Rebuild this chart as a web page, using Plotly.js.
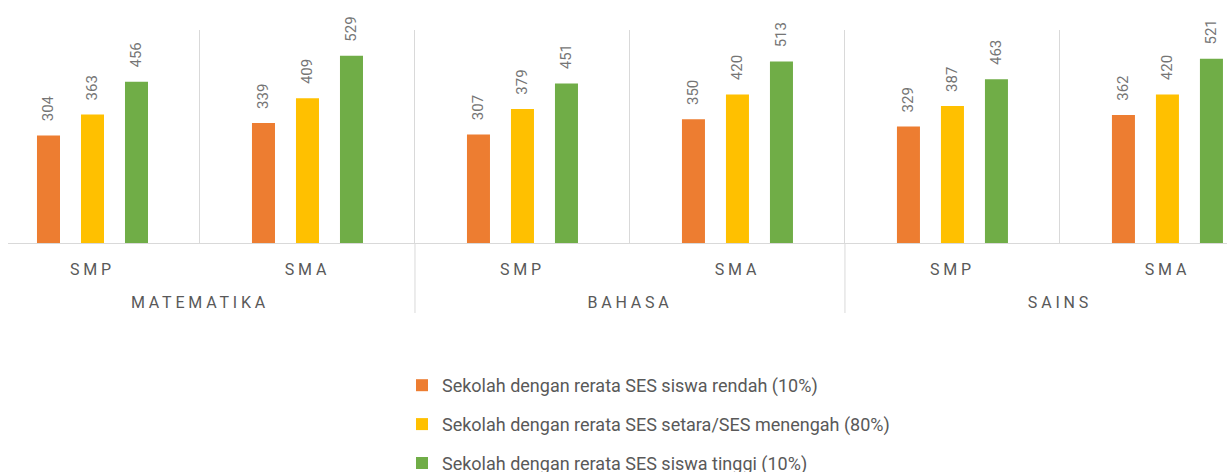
<!DOCTYPE html>
<html><head><meta charset="utf-8">
<script src="https://cdn.plot.ly/plotly-3.0.1.min.js"></script>
<style>
html,body{margin:0;padding:0;background:#fff;}
#chart .xtick text, #chart .xtick2 text {letter-spacing:3.8px;}
#chart g.xtick2 {transform: translateY(24px);}
</style>
</head><body><div id="chart" style="width:1227px;height:472px;"></div>
<script>
const subjects = ['MATEMATIKA','MATEMATIKA','BAHASA','BAHASA','SAINS','SAINS'];
const levels = ['SMP','SMA','SMP','SMA','SMP','SMA'];
const seriesNames = [
  'Sekolah dengan rerata SES siswa rendah (10%)',
  'Sekolah dengan rerata SES setara/SES menengah (80%)',
  'Sekolah dengan rerata SES siswa tinggi (10%)'
];
const rendah = [304, 339, 307, 350, 329, 362];
const menengah = [363, 409, 379, 420, 387, 420];
const tinggi = [456, 529, 451, 513, 463, 521];
const seriesValues = [rendah, menengah, tinggi];
const colors = ['#ED7D31', '#FFC000', '#70AD47'];

const traces = seriesValues.map((vals, i) => ({
  type: 'bar',
  name: seriesNames[i],
  legendgroup: 'g' + i,
  x: [subjects, levels],
  y: vals,
  marker: {color: colors[i]},
  text: vals.map(v => String(v)),
  texttemplate: '\u00a0\u00a0\u00a0%{text}',
  textposition: 'outside',
  textangle: -90,
  constraintext: 'none',
  cliponaxis: false,
  textfont: {family: 'Roboto, sans-serif', size: 15, color: '#757575'},
  hoverinfo: 'none'
}));

// group boundaries (between different subjects) for the divider lines
const dividerShapes = [];
for (let k = 1; k < subjects.length; k++) {
  if (subjects[k] !== subjects[k - 1]) {
    dividerShapes.push({
      type: 'line', xref: 'x', yref: 'paper',
      x0: k - 0.5, x1: k - 0.5, y0: 0, y1: -70 / 213,
      line: {color: '#d9d9d9', width: 1}
    });
  }
}

const layout = {
  width: 1227, height: 472,
  margin: {l: 8, r: 0, t: 30, b: 229, autoexpand: false},
  paper_bgcolor: '#fff', plot_bgcolor: '#fff',
  barmode: 'group',
  bargap: 0.386,
  bargroupgap: 0.477,
  font: {family: 'Roboto, sans-serif', color: '#595959'},
  xaxis: {
    type: 'multicategory',
    range: [-0.393, 5.277],
    showgrid: true, gridcolor: '#d9d9d9', gridwidth: 1,
    showline: true, linecolor: '#d9d9d9', linewidth: 1,
    showdividers: false,
    ticks: '',
    ticklabelstandoff: 12,
    tickfont: {family: 'Roboto, sans-serif', size: 16, color: '#595959'}
  },
  yaxis: {
    range: [0, 602],
    visible: false,
    showgrid: false, zeroline: false
  },
  shapes: dividerShapes,
  showlegend: true,
  legend: {
    orientation: 'v',
    xref: 'container', yref: 'container',
    x: 402/1227, xanchor: 'left',
    y: 1 - 367/472, yanchor: 'top',
    tracegroupgap: 12.5,
    font: {family: 'Roboto, sans-serif', size: 18, color: '#595959'},
    bgcolor: 'rgba(0,0,0,0)'
  }
};

Plotly.newPlot('chart', traces, layout, {displayModeBar: false, staticPlot: true});
</script>
</body></html>
